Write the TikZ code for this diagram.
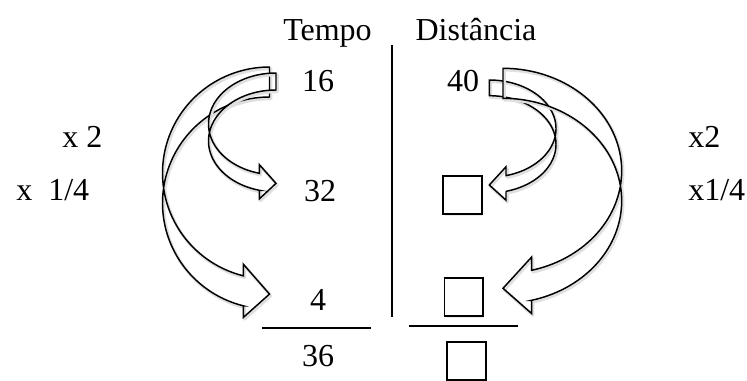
\documentclass[tikz,border=0pt]{standalone}
\usepackage{fontspec}
\setmainfont{Liberation Serif}
\usetikzlibrary{shadows}

% Block arrow that curves round an ellipse: a band between two equal ellipses
% shifted by the band thickness, a straight tail on top, and a head at the bottom.
% #1 side (1: band on the left, head points right; -1: mirrored)
% #2 tail x, #3 top y, #4 horizontal radius, #5 height,
% #6 band thickness, #7 head width, #8 head length
\newcommand{\cbOutline}[2]{%
  \draw[#1]
    plot[domain=270:\cbEnd, samples=80, variable=\t]
      ({\cbR+\cbD*\cbW*cos(\t)}, {\cbCU+\cbHR*sin(\t)})
    -- (\cbXa,\cbYiv) -- (\cbR,\cbYtip) -- (\cbXa,\cbYviii) -- (\cbXa,\cbYvii)
    -- plot[domain=\cbEnd:270, samples=80, variable=\t]
      ({\cbR+\cbD*\cbW*cos(\t)}, {\cbCL+\cbHR*sin(\t)})
    -- cycle;
}
\newcommand{\curvedblock}[8]{%
  \pgfmathsetmacro\cbR{#2}%
  \pgfmathsetmacro\cbD{#1}%
  \pgfmathsetmacro\cbW{#4}%
  \pgfmathsetmacro\cbHR{#5/2-(#6+#7)/4}%
  \pgfmathsetmacro\cbCU{#3+\cbHR}%
  \pgfmathsetmacro\cbCL{#3+\cbHR+#6}%
  \pgfmathsetmacro\cbPhi{asin(#8/#4)}%
  \pgfmathsetmacro\cbEnd{90+\cbPhi}%
  \pgfmathsetmacro\cbXa{#2-#1*#8}%
  \pgfmathsetmacro\cbYv{\cbCU+\cbHR*cos(\cbPhi)}%
  \pgfmathsetmacro\cbYvii{\cbYv+#6}%
  \pgfmathsetmacro\cbYiv{\cbYv-(#7-#6)/2}%
  \pgfmathsetmacro\cbYviii{\cbYvii+(#7-#6)/2}%
  \pgfmathsetmacro\cbYtip{#3+#5-#7/2}%
  \cbOutline{softshade, shift={(1.3,1.8)}}{}%
  \cbOutline{blockarrow}{}%
}

\begin{document}
\begin{tikzpicture}[x=0.75pt, y=-0.75pt,
  lbl/.style={font=\fontsize{24}{28}\selectfont, inner sep=0pt, anchor=base},
  box/.style={draw, fill=white, line width=1.3pt, minimum width=29pt,
    minimum height=28.5pt, inner sep=0pt,
    drop shadow={shadow xshift=1pt, shadow yshift=-1.3pt, opacity=0.15,
      shadow scale=1}},
  rule/.style={line width=1.2pt},
  softshade/.style={draw=black!12, line width=2.2pt, line join=round},
  blockarrow/.style={draw=black, line width=1.1pt, line join=miter}]
\useasboundingbox (0,0) rectangle (747,380);

% column headings and separator
\node[lbl] (tempo) at (327.5,40) {Tempo};
\node[lbl] (dist) at (476,40) {Distância};
\draw[rule] (392,45) -- (392,317);

% time column
\node[lbl] (t16) at (318,91) {16};
\node[lbl] (t32) at (320,201) {32};
\node[lbl] (t4) at (318,310) {4};
\draw[rule] (262,328) -- (371,328);
\node[lbl] (t36) at (318,366) {36};

% distance column
\node[lbl] (d40) at (463,91) {40};
\node[box] (d2) at (462.5,195) {};
\node[box] (d4) at (463.8,297) {};
\draw[rule] (409,326) -- (518,326);
\node[box] (dsum) at (466.5,361) {};

% factors
\node[lbl, anchor=base west] (fl2) at (62,147) {x 2};
\node[lbl, anchor=base west] (fl4) at (16,200) {x \ 1/4};
\node[lbl, anchor=base west] (fr2) at (688,147) {x2};
\node[lbl, anchor=base west] (fr4) at (688,200) {x1/4};

% curved arrows
\curvedblock{1}{269.5}{67}{107}{253.7}{30}{53.3}{26.2}
\curvedblock{1}{276}{73}{67.5}{127.5}{17}{34.3}{16.7}
\curvedblock{-1}{489.3}{80}{66.7}{121.7}{15.7}{33.4}{16.7}
\curvedblock{-1}{503}{68.3}{118.7}{248.3}{30}{56.6}{28.7}
\end{tikzpicture}
\end{document}
